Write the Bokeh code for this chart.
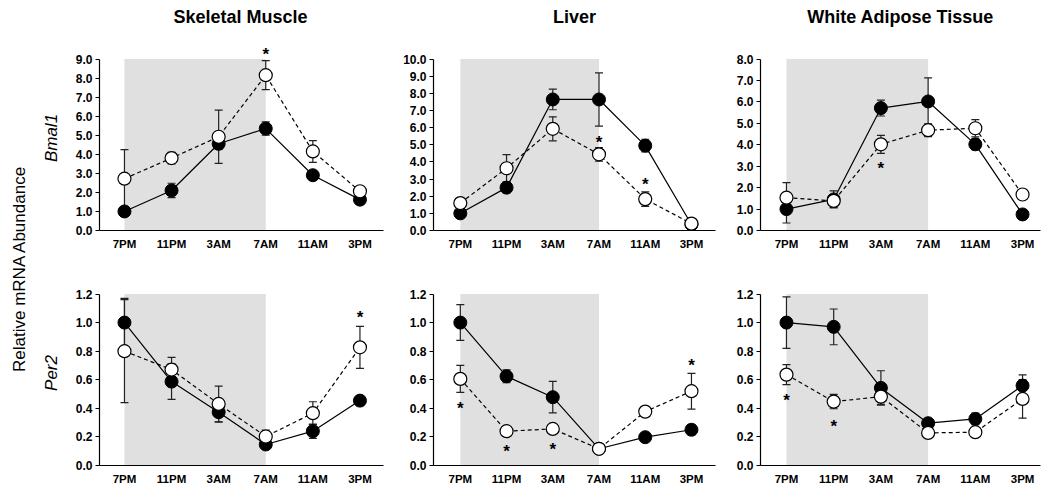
import math
from bokeh.plotting import figure
from bokeh.layouts import row, column
from bokeh.models import Range1d, FixedTicker, NumeralTickFormatter
from bokeh.core.properties import value
from bokeh.embed import file_html
from bokeh.resources import INLINE

# ---------------- data ----------------
times = ["7PM", "11PM", "3AM", "7AM", "11AM", "3PM"]
tissues = ["Skeletal Muscle", "Liver", "White Adipose Tissue"]
genes = ["Bmal1", "Per2"]

# Bmal1
sm_bmal1_filled = [1.0, 2.1, 4.55, 5.35, 2.9, 1.62]
sm_bmal1_filled_err = [0.1, 0.38, 0.3, 0.35, 0.15, 0.1]
sm_bmal1_open = [2.72, 3.8, 4.92, 8.15, 4.15, 2.06]
sm_bmal1_open_err = [1.52, 0.3, 1.4, 0.76, 0.57, 0.15]
sm_bmal1_stars = [(3, 9.47)]

lv_bmal1_filled = [1.0, 2.5, 7.64, 7.64, 4.95, 0.35]
lv_bmal1_filled_err = [0.1, 0.3, 0.6, 1.55, 0.37, 0.1]
lv_bmal1_open = [1.6, 3.63, 5.93, 4.44, 1.83, 0.4]
lv_bmal1_open_err = [0.3, 0.8, 0.7, 0.39, 0.42, 0.1]
lv_bmal1_stars = [(3, 5.38), (4, 2.92)]

wat_bmal1_filled = [1.0, 1.45, 5.71, 6.02, 4.02, 0.75]
wat_bmal1_filled_err = [0.65, 0.4, 0.37, 1.1, 0.25, 0.1]
wat_bmal1_open = [1.53, 1.38, 4.02, 4.68, 4.77, 1.68]
wat_bmal1_open_err = [0.7, 0.3, 0.42, 0.3, 0.4, 0.15]
wat_bmal1_stars = [(2, 3.06)]

# Per2
sm_per2_filled = [1.0, 0.587, 0.373, 0.147, 0.24, 0.454]
sm_per2_filled_err = [0.17, 0.125, 0.07, 0.03, 0.05, 0.035]
sm_per2_open = [0.80, 0.671, 0.431, 0.203, 0.366, 0.827]
sm_per2_open_err = [0.36, 0.085, 0.125, 0.045, 0.08, 0.147]
sm_per2_stars = [(5, 1.067)]

lv_per2_filled = [1.0, 0.624, 0.478, 0.117, 0.198, 0.25]
lv_per2_filled_err = [0.125, 0.045, 0.11, 0.02, 0.02, 0.035]
lv_per2_open = [0.606, 0.24, 0.256, 0.117, 0.377, 0.52]
lv_per2_open_err = [0.095, 0.03, 0.02, 0.02, 0.02, 0.125]
lv_per2_stars = [(0, 0.424), (1, 0.124), (2, 0.14), (5, 0.729)]

wat_per2_filled = [1.0, 0.97, 0.543, 0.296, 0.326, 0.559]
wat_per2_filled_err = [0.18, 0.125, 0.12, 0.03, 0.04, 0.075]
wat_per2_open = [0.636, 0.447, 0.482, 0.228, 0.233, 0.466]
wat_per2_open_err = [0.07, 0.05, 0.055, 0.02, 0.02, 0.135]
wat_per2_stars = [(0, 0.485), (1, 0.303)]

bmal1_ticks = [[0, 1, 2, 3, 4, 5, 6, 7, 8, 9],
               [0, 1, 2, 3, 4, 5, 6, 7, 8, 9, 10],
               [0, 1, 2, 3, 4, 5, 6, 7, 8]]
per2_ticks = [0, 0.2, 0.4, 0.6, 0.8, 1.0, 1.2]

# dark phase: 7PM .. 7AM
dark_start, dark_end = 0, 3

# ---------------- layout constants ----------------
FONT = "Liberation Sans"
FRAME_H = 185
TICK_SPAN = 171.5
LEFT_W = 38
HEADER_H = 28
col_specs = [
    # (left border, frame width, right border, x start, x end)
    (59, 286, 10, -0.53, 5.50),
    (40, 282, 8, -0.58, 5.52),
    (37, 280, 1, -0.55, 5.38),
]
row_specs = [
    # (top border, bottom border, x label standoff)
    (45 - HEADER_H, 40, 7),
    (10, 23, 7),
]


def blank(fig):
    fig.outline_line_color = None
    fig.axis.visible = False
    fig.xgrid.visible = False
    fig.ygrid.visible = False
    fig.background_fill_color = "white"
    fig.border_fill_color = "white"


def make_header(c, x_range):
    lb, fw, rb, xs, xe = col_specs[c]
    h = figure(width=lb + fw + rb, height=HEADER_H, x_range=x_range,
               y_range=Range1d(0, HEADER_H), output_backend="svg",
               toolbar_location=None, min_border_left=lb, min_border_right=rb,
               min_border_top=0, min_border_bottom=0)
    blank(h)
    h.text(x=[(xs + xe) / 2], y=[HEADER_H - 16], text=[tissues[c]],
           text_align="center", text_baseline="middle", text_font=value(FONT),
           text_font_size="18px", text_font_style="bold", text_color="black")
    return h


def make_panel(r, c, filled, filled_err, opn, opn_err, stars, ticks, x_range):
    lb, fw, rb, xs, xe = col_specs[c]
    tb, bb, xstand = row_specs[r]
    top = ticks[-1]
    y_end = top * FRAME_H / TICK_SPAN
    p = figure(width=lb + fw + rb, height=tb + FRAME_H + bb,
               x_range=x_range, y_range=Range1d(0, y_end),
               output_backend="svg", toolbar_location=None,
               min_border_left=lb, min_border_right=rb,
               min_border_top=tb, min_border_bottom=bb)
    p.outline_line_color = None
    p.xgrid.visible = False
    p.ygrid.visible = False
    p.background_fill_color = "white"
    p.border_fill_color = "white"

    # shading
    p.quad(left=[dark_start], right=[dark_end], bottom=[0], top=[top],
           fill_color="#e0e0e0", line_color=None)

    x = list(range(len(times)))
    # error bars
    for vals, errs in ((filled, filled_err), (opn, opn_err)):
        lo = [v - e for v, e in zip(vals, errs)]
        hi = [v + e for v, e in zip(vals, errs)]
        p.segment(x0=x, y0=lo, x1=x, y1=hi, line_color="#222222", line_width=1.2)
        p.scatter(x=x + x, y=lo + hi, marker="dash", size=8,
                  line_color="#222222", line_width=1.2)

    # lines
    p.line(x, filled, line_color="black", line_width=1.2)
    p.line(x, opn, line_color="black", line_width=1.2, line_dash="4 3")
    # markers
    p.scatter(x, filled, size=13, fill_color="black", line_color="black", line_width=1)
    p.scatter(x, opn, size=13, fill_color="white", line_color="black", line_width=1.2)

    # significance stars
    if stars:
        p.text(x=[s[0] for s in stars], y=[s[1] for s in stars],
               text=["*"] * len(stars), text_align="center",
               text_baseline="middle", text_font=value(FONT),
               text_font_size="17px", text_font_style="bold",
               text_color="black", y_offset=4)

    # axes
    p.xaxis.ticker = FixedTicker(ticks=x)
    p.xaxis.major_label_overrides = {i: t for i, t in enumerate(times)}
    p.xaxis.major_tick_out = 0
    p.xaxis.major_tick_in = 0
    p.xaxis.minor_tick_out = 0
    p.xaxis.major_label_standoff = xstand
    p.xaxis.major_label_text_font = FONT
    p.xaxis.major_label_text_font_size = "11.5px"
    p.xaxis.major_label_text_font_style = "bold"
    p.xaxis.major_label_text_color = "black"
    p.xaxis.axis_line_width = 1.2

    p.yaxis.ticker = FixedTicker(ticks=ticks)
    p.yaxis.formatter = NumeralTickFormatter(format="0.0")
    p.yaxis.bounds = (0, top)
    p.yaxis.major_tick_out = 4
    p.yaxis.major_tick_in = 0
    p.yaxis.minor_tick_out = 0
    p.yaxis.major_label_standoff = 3
    p.yaxis.major_label_text_font = FONT
    p.yaxis.major_label_text_font_size = "12px"
    p.yaxis.major_label_text_font_style = "bold"
    p.yaxis.major_label_text_color = "black"
    p.yaxis.axis_line_width = 1.2
    if c == 0:
        p.yaxis.axis_label = genes[r]
        p.yaxis.axis_label_text_font = FONT
        p.yaxis.axis_label_text_font_size = "17px"
        p.yaxis.axis_label_text_font_style = "italic"
        p.yaxis.axis_label_standoff = 12
        p.yaxis.axis_label_text_color = "black"
    return p


xr = [Range1d(spec[3], spec[4]) for spec in col_specs]
headers = [make_header(c, xr[c]) for c in range(3)]

p1 = make_panel(0, 0, sm_bmal1_filled, sm_bmal1_filled_err, sm_bmal1_open, sm_bmal1_open_err, sm_bmal1_stars, bmal1_ticks[0], xr[0])
p2 = make_panel(0, 1, lv_bmal1_filled, lv_bmal1_filled_err, lv_bmal1_open, lv_bmal1_open_err, lv_bmal1_stars, bmal1_ticks[1], xr[1])
p3 = make_panel(0, 2, wat_bmal1_filled, wat_bmal1_filled_err, wat_bmal1_open, wat_bmal1_open_err, wat_bmal1_stars, bmal1_ticks[2], xr[2])
p4 = make_panel(1, 0, sm_per2_filled, sm_per2_filled_err, sm_per2_open, sm_per2_open_err, sm_per2_stars, per2_ticks, xr[0])
p5 = make_panel(1, 1, lv_per2_filled, lv_per2_filled_err, lv_per2_open, lv_per2_open_err, lv_per2_stars, per2_ticks, xr[1])
p6 = make_panel(1, 2, wat_per2_filled, wat_per2_filled_err, wat_per2_open, wat_per2_open_err, wat_per2_stars, per2_ticks, xr[2])

total_h = HEADER_H + (row_specs[0][0] + FRAME_H + row_specs[0][1]) + (row_specs[1][0] + FRAME_H + row_specs[1][1])
left = figure(width=LEFT_W, height=total_h, x_range=Range1d(0, LEFT_W), y_range=Range1d(0, total_h),
              output_backend="svg", toolbar_location=None,
              min_border_left=0, min_border_right=0, min_border_top=0, min_border_bottom=0)
blank(left)
left.text(x=[19], y=[total_h - 268], text=["Relative mRNA Abundance"], angle=math.pi / 2,
          text_align="center", text_baseline="middle", text_font=value(FONT),
          text_font_size="17px", text_color="black")

layout = row(left, column(row(*headers), row(p1, p2, p3), row(p4, p5, p6)))
open("out.html", "w").write(file_html(layout, INLINE))
